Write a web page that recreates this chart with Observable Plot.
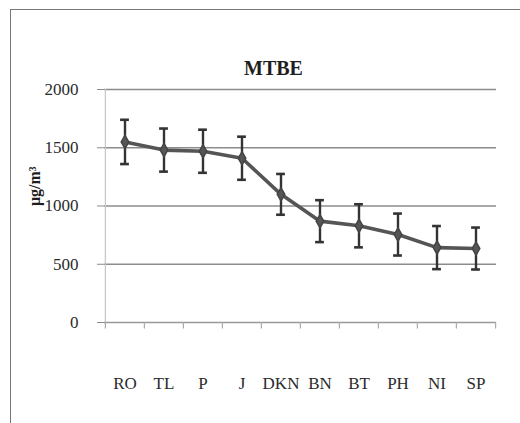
<!DOCTYPE html>
<html><head><meta charset="utf-8">
<script src="https://cdn.jsdelivr.net/npm/d3@7"></script>
<script src="https://cdn.jsdelivr.net/npm/@observablehq/plot@0.6"></script>
<style>
body{margin:0;background:#fff;}
#wrap{position:relative;width:520px;height:423px;overflow:hidden;background:#fff;}
#frame{position:absolute;left:10px;top:9px;width:600px;height:500px;border:1.5px solid #777;}
#chart{position:absolute;left:0;top:0;}
#chart svg text{font-family:'Liberation Serif','Times New Roman',serif;}
</style></head><body><div id="wrap"><div id="frame"></div><div id="chart"></div></div>
<script>
const sites = ["RO","TL","P","J","DKN","BN","BT","PH","NI","SP"];
const mean = [1550,1480,1470,1410,1100,870,830,755,643,635];
const sd = [190,185,185,185,175,180,185,180,185,180];
const yTicks = [0,500,1000,1500,2000];
const title = "MTBE";
const yLabel = "μg/m³";

const data = sites.map((s,i)=>({site:s, mean:mean[i], lo:mean[i]-sd[i], hi:mean[i]+sd[i]}));

const W = 520, H = 423, mL = 104, mR = 24, mT = 89, mB = 101;
const bw = (W - mL - mR) / sites.length;
const font = "'Liberation Serif', 'Times New Roman', serif";

const chart = Plot.plot({
  width: W, height: H,
  marginLeft: mL, marginRight: mR, marginTop: mT, marginBottom: mB,
  style: {fontFamily: font, fontSize: "17px", color: "#2a2a2a", background: "transparent"},
  x: {type: "band", domain: sites, padding: 0, label: null},
  y: {domain: [0, 2000], label: null},
  marks: [
    // gridlines
    Plot.ruleY(yTicks.filter(d => d > 0), {stroke: "#8c8c8c", strokeWidth: 1.3}),
    // left axis line
    Plot.ruleX([sites[0]], {y1: 0, y2: 2000, dx: -bw/2, stroke: "#c8c8c8", strokeWidth: 1.3}),
    // x axis line
    Plot.ruleY([0], {stroke: "#999", strokeWidth: 1.3}),
    // category boundary tick marks
    Plot.ruleX(sites, {x: d => d, y1: 0, y2: -55, dx: -bw/2, stroke: "#aaa", strokeWidth: 1.2}),
    Plot.ruleX([sites[sites.length-1]], {y1: 0, y2: -55, dx: bw/2, stroke: "#aaa", strokeWidth: 1.2}),
    Plot.axisY({ticks: yTicks, tickSize: 7, tickPadding: 19, stroke: "#8c8c8c", fontSize: 17, fill: "#2a2a2a", tickFormat: d => String(d), label: null}),
    Plot.axisX({tickSize: 0, tickPadding: 54, fontSize: 17, fill: "#2a2a2a", label: null}),
    // error bars
    Plot.ruleX(data, {x: "site", y1: "lo", y2: "hi", stroke: "#333", strokeWidth: 2.4}),
    Plot.tickY(data, {x: "site", y: "hi", insetLeft: bw/2 - 4.5, insetRight: bw/2 - 4.5, stroke: "#333", strokeWidth: 2.6}),
    Plot.tickY(data, {x: "site", y: "lo", insetLeft: bw/2 - 4.5, insetRight: bw/2 - 4.5, stroke: "#333", strokeWidth: 2.6}),
    // mean line
    Plot.line(data, {x: "site", y: "mean", stroke: "#555", strokeWidth: 3.6}),
    Plot.dot(data, {x: "site", y: "mean", symbol: "diamond", r: 4, fill: "#555", stroke: "#444"}),
    // title
    Plot.text([title], {frameAnchor: "top", dx: -27, dy: -29, text: d => d, fontSize: 20, fontWeight: "bold", fill: "#1e1e1e"}),
    // y label
    Plot.text([yLabel], {frameAnchor: "left", dx: -70, dy: 0, rotate: -90, text: d => d, fontSize: 16, fontWeight: "bold", fill: "#1e1e1e"})
  ]
});
document.getElementById("chart").append(chart);
</script>
</body></html>
